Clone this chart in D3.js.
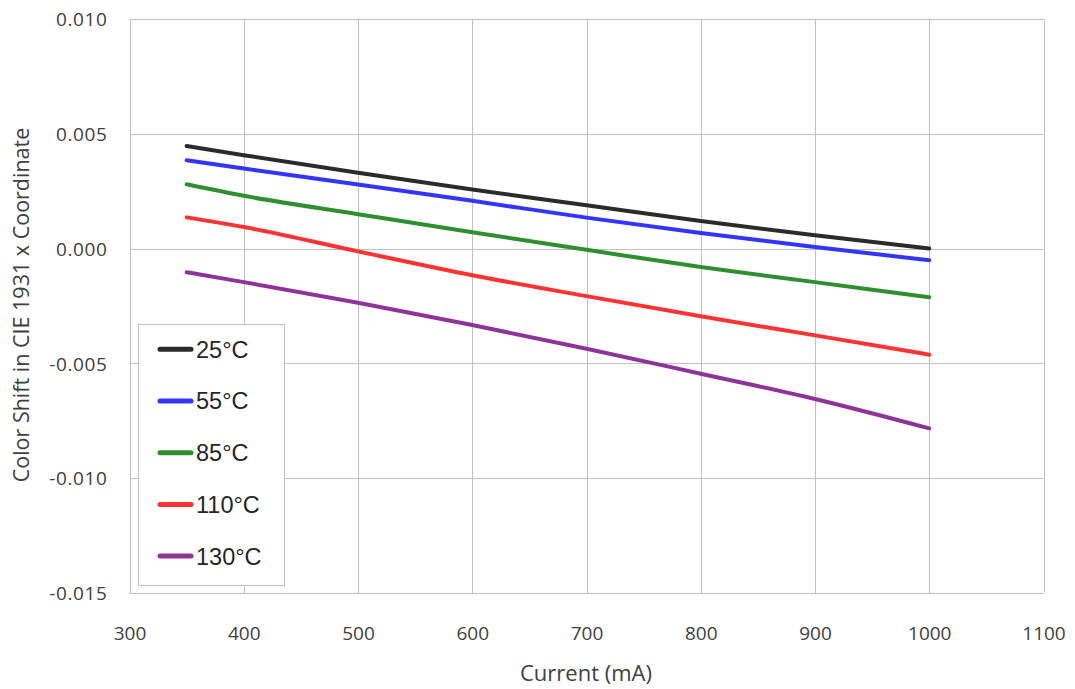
<!DOCTYPE html>
<html>
<head>
<meta charset="utf-8">
<script src="https://cdn.jsdelivr.net/npm/d3@7"></script>
<style>
  html, body { margin: 0; padding: 0; background: #ffffff; }
  svg { display: block; }
</style>
</head>
<body>
<svg id="chart" width="1075" height="689"></svg>
<script>
// Drive current (mA) at which the colour shift was sampled
const currents = [350, 400, 500, 600, 700, 800, 900, 1000];

// Colour shift in CIE 1931 x for each junction temperature
const shift25C  = [0.00447, 0.00407, 0.00330, 0.00257, 0.00189, 0.00120, 0.00058, 0.00000];
const shift55C  = [0.00385, 0.00349, 0.00279, 0.00208, 0.00135, 0.00068, 0.00007, -0.00051];
const shift85C  = [0.00280, 0.00230, 0.00150, 0.00071, -0.00005, -0.00080, -0.00146, -0.00212];
const shift110C = [0.00136, 0.00094, -0.00012, -0.00116, -0.00207, -0.00295, -0.00378, -0.00462];
const shift130C = [-0.00103, -0.00146, -0.00236, -0.00333, -0.00436, -0.00545, -0.00655, -0.00783];

const seriesNames = ["25°C", "55°C", "85°C", "110°C", "130°C"];
const seriesValues = [shift25C, shift55C, shift85C, shift110C, shift130C];
const seriesColors = ["#2b2b2b", "#3434ff", "#2e8f2e", "#ff3333", "#8e3399"];

const xTicks = [300, 400, 500, 600, 700, 800, 900, 1000, 1100];
const yTicks = [-0.015, -0.010, -0.005, 0.000, 0.005, 0.010];

const svg = d3.select("#chart");
const margin = { left: 129.5, right: 1075 - 1043.5, top: 19, bottom: 689 - 593 };
const width = 1075 - margin.left - margin.right;
const height = 689 - margin.top - margin.bottom;

const x = d3.scaleLinear().domain([300, 1100]).range([margin.left, margin.left + width]);
const y = d3.scaleLinear().domain([-0.015, 0.010]).range([margin.top + height, margin.top]);

const gridColor = "#bfbfbf";
const textColor = "#404040";
const tickFont = "'Open Sans', 'Noto Sans', sans-serif";

// Gridlines
svg.append("g")
  .selectAll("line")
  .data(xTicks)
  .join("line")
  .attr("x1", d => Math.round(x(d)) + 0.5)
  .attr("x2", d => Math.round(x(d)) + 0.5)
  .attr("y1", y(0.010))
  .attr("y2", y(-0.015))
  .attr("stroke", gridColor)
  .attr("stroke-width", 1);

svg.append("g")
  .selectAll("line")
  .data(yTicks)
  .join("line")
  .attr("x1", x(300))
  .attr("x2", x(1100))
  .attr("y1", d => Math.round(y(d)) + 0.5)
  .attr("y2", d => Math.round(y(d)) + 0.5)
  .attr("stroke", gridColor)
  .attr("stroke-width", 1);

// Axes (labels only; the frame comes from the gridlines)
const xAxis = d3.axisBottom(x).tickValues(xTicks).tickSize(0).tickPadding(0).tickFormat(d3.format("d"));
const gx = svg.append("g").attr("transform", `translate(0,${y(-0.015)})`).call(xAxis);
gx.select(".domain").remove();
gx.selectAll("text")
  .attr("dy", 0)
  .attr("y", 47)
  .style("font-family", tickFont)
  .style("font-size", "19px")
  .attr("fill", textColor);

// plain hyphen for negatives, three decimals
const fmtY = d => d3.format(".3f")(d).replace("−", "-");
const yAxis = d3.axisLeft(y).tickValues(yTicks).tickSize(0).tickPadding(0).tickFormat(fmtY);
const gy = svg.append("g").attr("transform", `translate(${x(300)},0)`).call(yAxis);
gy.select(".domain").remove();
gy.selectAll("text")
  .attr("x", -22)
  .attr("dy", "0.35em")
  .style("font-family", tickFont)
  .style("font-size", "19px")
  .style("letter-spacing", "0.6px")
  .attr("fill", textColor);

// Axis titles
svg.append("text")
  .attr("x", 586)
  .attr("y", 681)
  .attr("text-anchor", "middle")
  .style("font-family", tickFont)
  .style("font-size", "22px")
  .attr("fill", textColor)
  .text("Current (mA)");

svg.append("text")
  .attr("transform", `translate(29,305) rotate(-90)`)
  .attr("text-anchor", "middle")
  .style("font-family", tickFont)
  .style("font-size", "21.5px")
  .attr("fill", textColor)
  .text("Color Shift in CIE 1931 x Coordinate");

// Data lines
const line = d3.line()
  .x((d, i) => x(currents[i]))
  .y(d => y(d))
  .curve(d3.curveMonotoneX);

svg.append("g")
  .selectAll("path")
  .data(seriesValues)
  .join("path")
  .attr("d", d => line(d))
  .attr("fill", "none")
  .attr("stroke", (d, i) => seriesColors[i])
  .attr("stroke-width", 4)
  .attr("stroke-linecap", "round")
  .attr("stroke-linejoin", "round");

// Legend
const legend = svg.append("g");
legend.append("rect")
  .attr("x", 138.5)
  .attr("y", 324.5)
  .attr("width", 146)
  .attr("height", 261)
  .attr("fill", "#ffffff")
  .attr("stroke", gridColor)
  .attr("stroke-width", 1);

const rows = legend.selectAll("g")
  .data(seriesNames)
  .join("g")
  .attr("transform", (d, i) => `translate(0,${349.3 + i * 51.7})`);

rows.append("line")
  .attr("x1", 160)
  .attr("x2", 191)
  .attr("y1", 0)
  .attr("y2", 0)
  .attr("stroke", (d, i) => seriesColors[i])
  .attr("stroke-width", 5)
  .attr("stroke-linecap", "round");

rows.append("text")
  .attr("x", 196)
  .attr("y", 0)
  .attr("dy", "0.36em")
  .style("font-family", "'Liberation Sans', Arial, sans-serif")
  .style("font-size", "23.5px")
  .attr("fill", "#262626")
  .text(d => d);
</script>
</body>
</html>
